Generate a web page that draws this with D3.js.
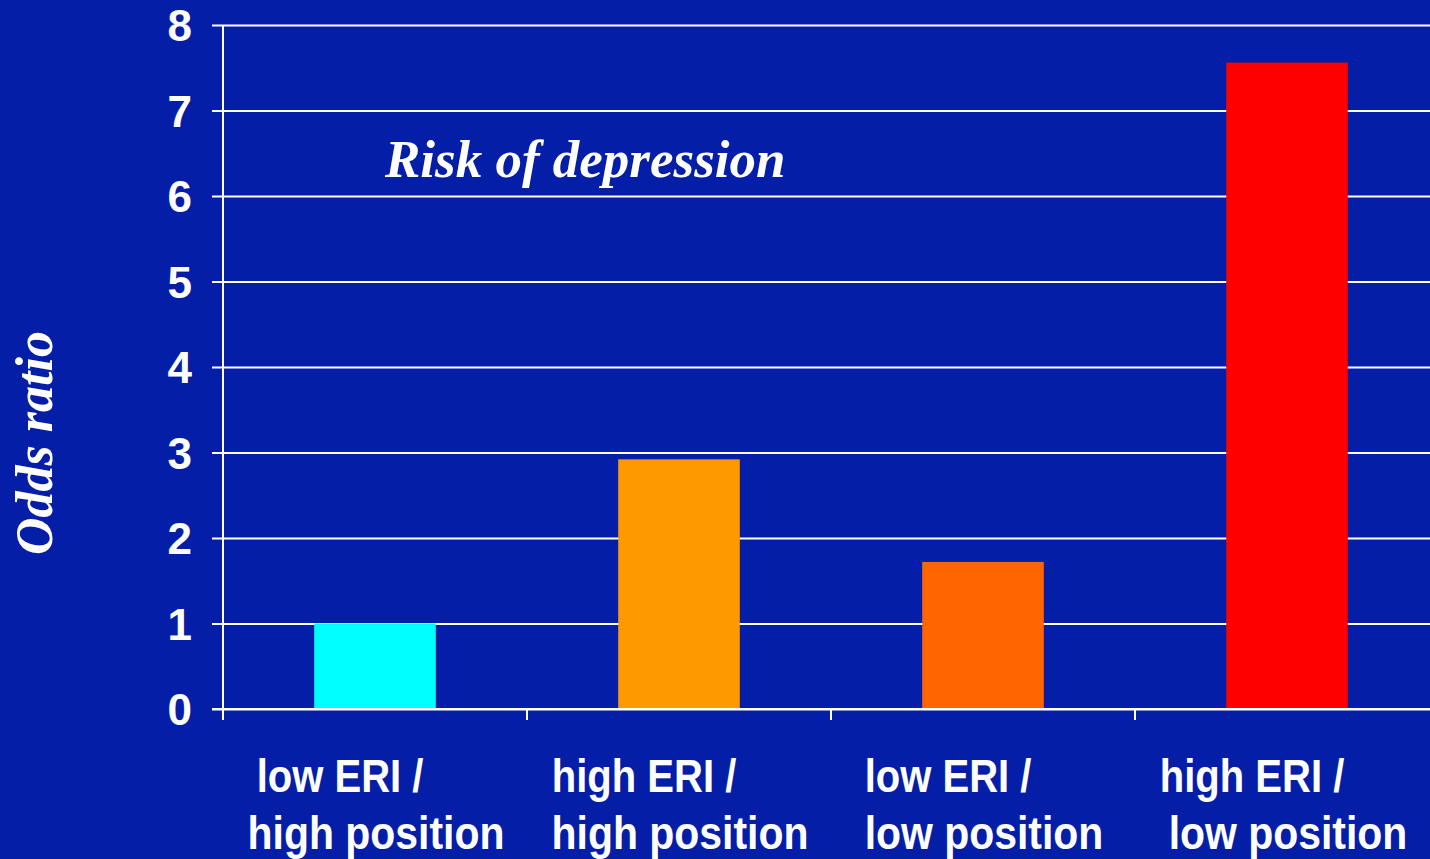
<!DOCTYPE html>
<html>
<head>
<meta charset="utf-8">
<script src="https://cdn.jsdelivr.net/npm/d3@7"></script>
<style>
  html, body { margin: 0; padding: 0; background: #041EA8; }
  svg { display: block; }
</style>
</head>
<body>
<svg id="chart" width="1430" height="859"></svg>
<script>
// Odds ratio of depression by effort-reward imbalance and job position
const categories = ["low ERI / high position", "high ERI / high position", "low ERI / low position", "high ERI / low position"];
const labelLine1 = ["low ERI /", "high ERI /", "low ERI /", "high ERI /"];
const labelLine2 = ["high position", "high position", "low position", "low position"];
const oddsRatio = [1.0, 2.92, 1.72, 7.56];
const barColors = ["#00FFFF", "#FF9900", "#FF6600", "#FF0000"];
const yTicks = [0, 1, 2, 3, 4, 5, 6, 7, 8];

(function draw() {
  const W = 1430, H = 859;
  const plotLeft = 223, plotBottom = 709, plotTop = 25;
  const svg = d3.select("#chart");

  svg.append("rect").attr("width", W).attr("height", H).attr("fill", "#041EA8");

  const x = d3.scaleBand()
    .domain(categories)
    .range([plotLeft, plotLeft + 4 * 304])
    .paddingInner(0.6)
    .paddingOuter(0.3);

  const y = d3.scaleLinear().domain([0, 8]).range([plotBottom, plotTop]);

  // Horizontal gridlines with left tick stubs and numeric labels
  const yAxis = d3.axisLeft(y).tickValues(yTicks).tickFormat(d3.format("d")).tickSizeOuter(0);
  const gy = svg.append("g").attr("transform", `translate(${plotLeft},0)`).call(yAxis);
  gy.select(".domain").remove();
  gy.selectAll(".tick line")
    .attr("x1", -11).attr("x2", W - plotLeft)
    .attr("stroke", "#FFFFFF").attr("stroke-width", 2);
  gy.selectAll(".tick text")
    .attr("x", -31).attr("dy", "0.36em")
    .attr("fill", "#FFFFFF")
    .style("font-family", "Liberation Sans, Arial, sans-serif")
    .style("font-weight", "bold")
    .style("font-size", "44px");

  // Vertical axis line
  svg.append("line")
    .attr("x1", plotLeft).attr("x2", plotLeft)
    .attr("y1", y(8)).attr("y2", plotBottom + 11)
    .attr("stroke", "#FFFFFF").attr("stroke-width", 2);

  // Bars
  svg.append("g").selectAll("rect")
    .data(categories)
    .join("rect")
    .attr("x", d => x(d))
    .attr("width", x.bandwidth())
    .attr("y", (d, i) => y(oddsRatio[i]))
    .attr("height", (d, i) => y(0) - y(oddsRatio[i]))
    .attr("fill", (d, i) => barColors[i]);

  // Baseline redrawn on top of the bars
  svg.append("line")
    .attr("x1", plotLeft - 11).attr("x2", W)
    .attr("y1", plotBottom).attr("y2", plotBottom)
    .attr("stroke", "#FFFFFF").attr("stroke-width", 2);

  // Category boundary ticks below the baseline
  svg.append("g").selectAll("line")
    .data(categories)
    .join("line")
    .attr("x1", d => x(d) - x.step() * 0.3)
    .attr("x2", d => x(d) - x.step() * 0.3)
    .attr("y1", plotBottom).attr("y2", plotBottom + 11)
    .attr("stroke", "#FFFFFF").attr("stroke-width", 2);

  // Two-line category labels
  const lab = svg.append("g").selectAll("g")
    .data(categories)
    .join("g")
    .attr("transform", d => `translate(${x(d) + x.bandwidth() / 2},0)`);
  lab.append("text")
    .attr("transform", "translate(-35,792) scale(0.87,1)")
    .attr("text-anchor", "middle")
    .attr("fill", "#FFFFFF")
    .style("font-family", "Liberation Sans, Arial, sans-serif")
    .style("font-weight", "bold")
    .style("font-size", "46px")
    .text((d, i) => labelLine1[i]);
  lab.append("text")
    .attr("transform", "translate(1,849) scale(0.89,1)")
    .attr("text-anchor", "middle")
    .attr("fill", "#FFFFFF")
    .style("font-family", "Liberation Sans, Arial, sans-serif")
    .style("font-weight", "bold")
    .style("font-size", "46px")
    .text((d, i) => labelLine2[i]);

  // Chart title inside the plot
  svg.append("text")
    .attr("x", 385).attr("y", 177)
    .attr("fill", "#FFFFFF")
    .style("font-family", "Liberation Serif, Times New Roman, serif")
    .style("font-weight", "bold")
    .style("font-style", "italic")
    .style("font-size", "53px")
    .text("Risk of depression");

  // Y axis title
  svg.append("text")
    .attr("transform", "translate(52,443) rotate(-90)")
    .attr("text-anchor", "middle")
    .attr("fill", "#FFFFFF")
    .style("font-family", "Liberation Serif, Times New Roman, serif")
    .style("font-weight", "bold")
    .style("font-style", "italic")
    .style("font-size", "52px")
    .text("Odds ratio");
})();
</script>
</body>
</html>
